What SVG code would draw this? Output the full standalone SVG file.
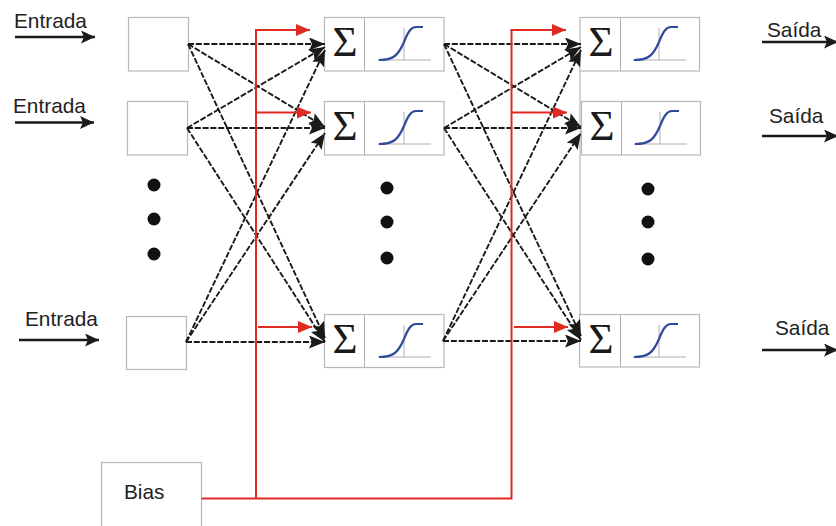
<svg xmlns="http://www.w3.org/2000/svg" xmlns:xlink="http://www.w3.org/1999/xlink" width="836" height="526" viewBox="0 0 836 526">
<style>
.box{fill:#fff;stroke:#b8b8b8;stroke-width:1.2}
.lbl{font-family:"Liberation Sans",Arial,sans-serif;font-size:20.8px;fill:#222}
.sig{font-family:"Liberation Serif","Times New Roman",serif;font-size:43px;fill:#1a1a1a;text-anchor:middle}
.ax{stroke:#b0b0b0;stroke-width:1;fill:none}
.curve{stroke:#2f4b9b;stroke-width:2.200;fill:none}
.dash{stroke:#1a1a1a;stroke-width:1.900;stroke-dasharray:6 1.800;fill:none;marker-end:url(#bk)}
.solid{stroke:#1a1a1a;stroke-width:2.400;fill:none;marker-end:url(#bk2)}
.red{stroke:#df2a22;stroke-width:2;fill:none}
.redh{stroke:#df2a22;stroke-width:2;fill:none;marker-end:url(#rd)}
.dot{fill:#111}
</style>
<defs>
<marker id="bk" markerUnits="userSpaceOnUse" markerWidth="18" markerHeight="14" refX="16" refY="6.500" orient="auto"><path d="M0,0 L16,6.500 L0,13 L3,6.500 Z" fill="#1a1a1a"/></marker>
<marker id="bk2" markerUnits="userSpaceOnUse" markerWidth="15" markerHeight="14" refX="14" refY="6.500" orient="auto"><path d="M0,0 L14,6.500 L0,13 L3,6.500 Z" fill="#1a1a1a"/></marker>
<marker id="rd" markerUnits="userSpaceOnUse" markerWidth="15" markerHeight="13" refX="14" refY="6" orient="auto"><path d="M0,0 L14,6 L0,12 Z" fill="#df2a22"/></marker>
<g id="s"><path class="ax" d="M0,33 H53 M26,1 V33"/><path class="curve" d="M1,33 C15,33 20,29 26,15 C30,5 33,0 38,0 L45,0"/></g>
</defs>
<line x1="580" y1="71" x2="580" y2="315" stroke="#b8b8b8" stroke-width="1.2"/>
<g id="n-in1"><rect class="box" x="128.500" y="17.500" width="60" height="53.500"/></g>
<g id="n-in2"><rect class="box" x="127.500" y="101.500" width="60" height="53.500"/></g>
<g id="n-in3"><rect class="box" x="126.500" y="316.500" width="60" height="53"/></g>
<g id="n-h1"><rect class="box" x="324.500" y="17.500" width="119.500" height="53.500"/><line class="ax" x1="364.500" y1="17.500" x2="364.500" y2="71"/><text class="sig" x="345" y="56">Σ</text><use xlink:href="#s" href="#s" x="378" y="27"/></g>
<g id="n-h2"><rect class="box" x="324.500" y="101.500" width="119.500" height="53.500"/><line class="ax" x1="364.500" y1="101.500" x2="364.500" y2="155"/><text class="sig" x="345" y="140">Σ</text><use xlink:href="#s" href="#s" x="378" y="111"/></g>
<g id="n-h3"><rect class="box" x="324.500" y="314.500" width="119.500" height="53"/><line class="ax" x1="364.500" y1="314.500" x2="364.500" y2="367.500"/><text class="sig" x="345" y="353">Σ</text><use xlink:href="#s" href="#s" x="378" y="324"/></g>
<g id="n-o1"><rect class="box" x="580" y="17.500" width="119.500" height="53.500"/><line class="ax" x1="620.500" y1="17.500" x2="620.500" y2="71"/><text class="sig" x="601" y="56">Σ</text><use xlink:href="#s" href="#s" x="633" y="27"/></g>
<g id="n-o2"><rect class="box" x="581.500" y="101.500" width="119" height="53.500"/><line class="ax" x1="621.500" y1="101.500" x2="621.500" y2="155"/><text class="sig" x="602" y="140">Σ</text><use xlink:href="#s" href="#s" x="634" y="111"/></g>
<g id="n-o3"><rect class="box" x="579.500" y="314.500" width="120" height="52.500"/><line class="ax" x1="620.500" y1="314.500" x2="620.500" y2="367"/><text class="sig" x="601" y="353">Σ</text><use xlink:href="#s" href="#s" x="633" y="324"/></g>
<g id="n-bias"><rect class="box" x="101.500" y="462.500" width="100" height="70"/><text class="lbl" x="124" y="499">Bias</text></g>
<g id="dots" class="dot">
<circle cx="154" cy="185" r="6.500"/><circle cx="154" cy="219" r="6.500"/><circle cx="154" cy="254" r="6.500"/>
<circle cx="387" cy="188" r="6.500"/><circle cx="387" cy="222" r="6.500"/><circle cx="387" cy="258" r="6.500"/>
<circle cx="648" cy="189" r="6.500"/><circle cx="648" cy="222" r="6.500"/><circle cx="648" cy="259" r="6.500"/>
</g>
<g id="labels">
<text class="lbl" x="14" y="28">Entrada</text>
<text class="lbl" x="13" y="113">Entrada</text>
<text class="lbl" x="25" y="326">Entrada</text>
<text class="lbl" x="767" y="37">Saída</text>
<text class="lbl" x="769" y="123">Saída</text>
<text class="lbl" x="775" y="335">Saída</text>
</g>
<g id="connectors">
<path class="solid" d="M15,37 H95"/><path class="solid" d="M15,122.500 H94"/><path class="solid" d="M19,340 H99"/>
<path class="solid" d="M762,42 H838"/><path class="solid" d="M762,136 H838"/><path class="solid" d="M762,350 H838"/>
<path class="dash" d="M188,44 L325,44"/><path class="dash" d="M188,44 L325,127"/><path class="dash" d="M188,44 L325,338"/>
<path class="dash" d="M187,128 L325,47"/><path class="dash" d="M187,128 L325,128"/><path class="dash" d="M187,128 L325,342"/>
<path class="dash" d="M186,342 L325,50"/><path class="dash" d="M186,342 L325,133"/><path class="dash" d="M186,342 L325,342"/>
<path class="dash" d="M444,44 L581,44"/><path class="dash" d="M444,44 L581,127"/><path class="dash" d="M444,44 L581,336"/>
<path class="dash" d="M444,128 L581,47"/><path class="dash" d="M444,128 L581,128"/><path class="dash" d="M444,128 L581,340"/>
<path class="dash" d="M443,341 L581,50"/><path class="dash" d="M443,341 L581,133"/><path class="dash" d="M443,341 L581,341"/>
<path class="red" d="M201.500,498.500 H511.500 V30"/><path class="red" d="M256,498.500 V30"/>
<path class="redh" d="M255,30 H310"/><path class="redh" d="M256,112.500 H311"/><path class="redh" d="M258,327 H312"/>
<path class="redh" d="M510.500,30 H566"/><path class="redh" d="M511,112.500 H567"/><path class="redh" d="M514,327 H568"/>
</g>
</svg>
